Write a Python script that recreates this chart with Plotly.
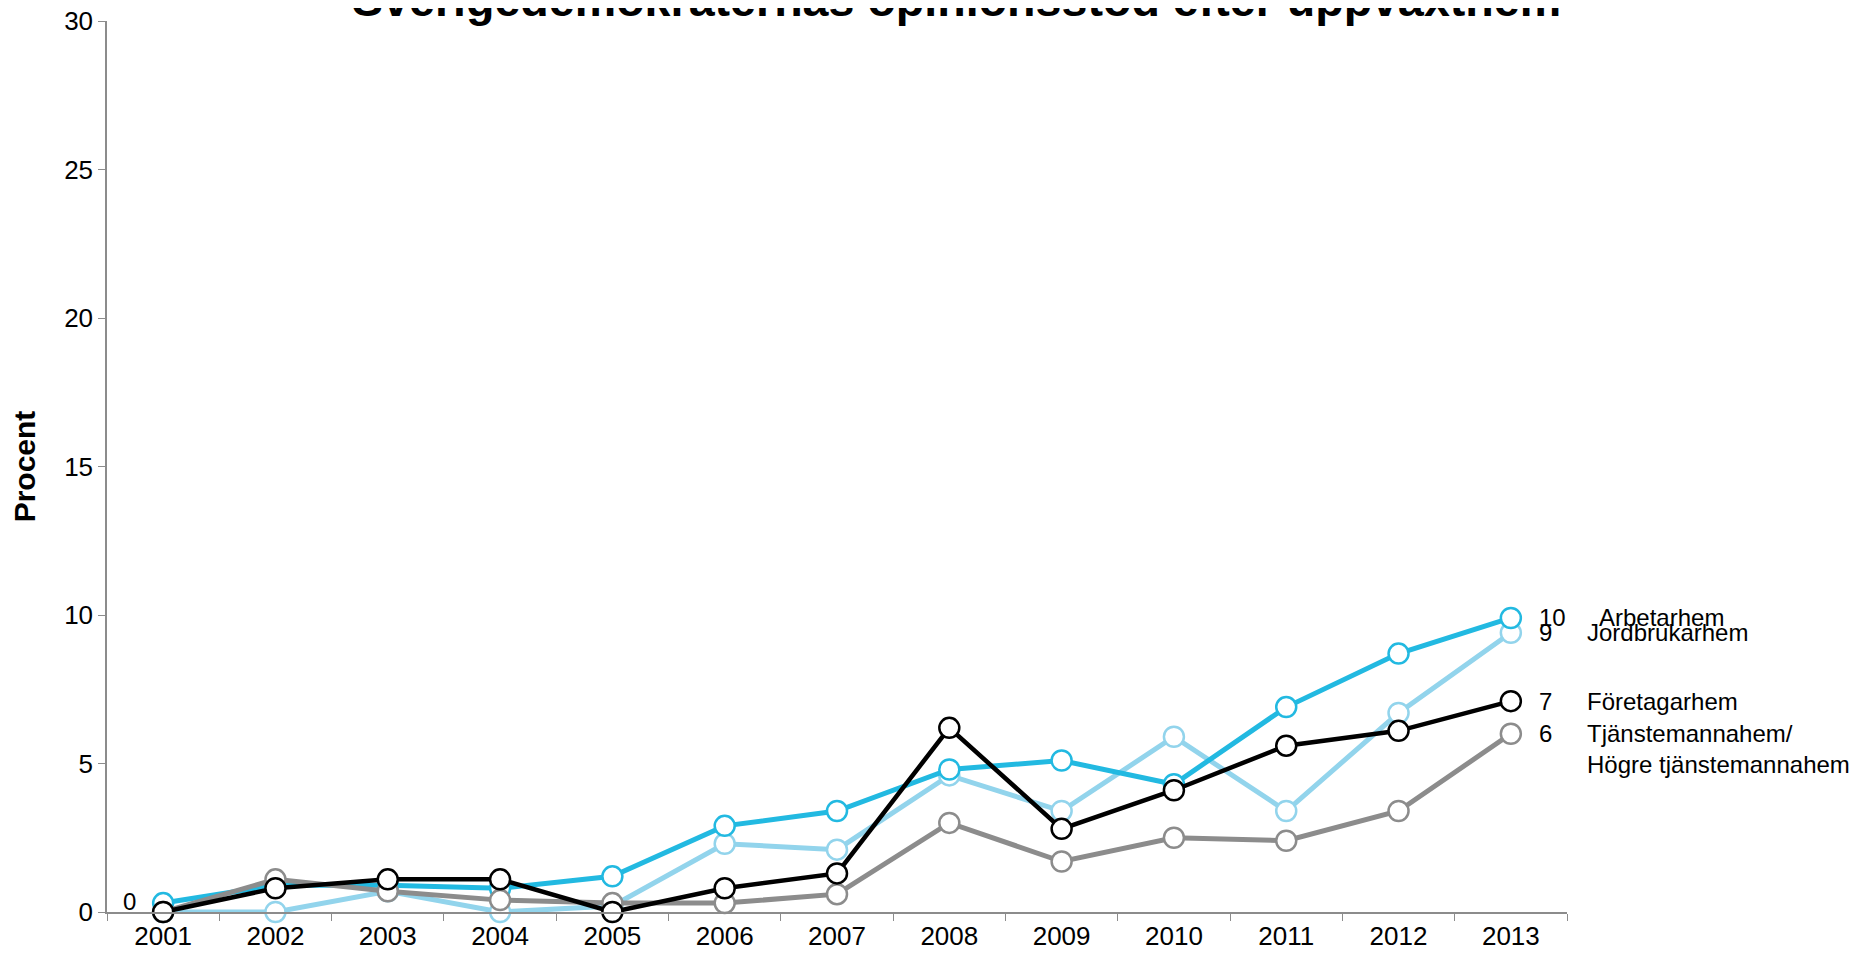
import plotly.graph_objects as go

years = ["2001", "2002", "2003", "2004", "2005", "2006", "2007",
         "2008", "2009", "2010", "2011", "2012", "2013"]

arbetarhem = [0.3, 0.9, 0.9, 0.8, 1.2, 2.9, 3.4, 4.8, 5.1, 4.3, 6.9, 8.7, 9.9]
jordbrukarhem = [0.0, 0.0, 0.7, 0.0, 0.2, 2.3, 2.1, 4.6, 3.4, 5.9, 3.4, 6.7, 9.4]
tjanstemannahem = [0.0, 1.1, 0.7, 0.4, 0.3, 0.3, 0.6, 3.0, 1.7, 2.5, 2.4, 3.4, 6.0]
foretagarhem = [0.0, 0.8, 1.1, 1.1, 0.0, 0.8, 1.3, 6.2, 2.8, 4.1, 5.6, 6.1, 7.1]

FONT = "Liberation Sans, Arial, sans-serif"

# drawn bottom to top
series = [
    ("Jordbrukarhem", jordbrukarhem, "#92D4EC", "Jordbrukarhem", 74, 5),
    ("Arbetarhem", arbetarhem, "#22B9E1", "Arbetarhem", 86, 5),
    ("Tjänstemannahem", tjanstemannahem, "#8C8C8C", "Tjänstemannahem/<br>Högre tjänstemannahem", 74, 5),
    ("Företagarhem", foretagarhem, "#000000", "Företagarhem", 74, 4.5),
]

last = len(years) - 1  # category index of the last year

fig = go.Figure()
annotations = []
for name, vals, color, label, shift, lw in series:
    fig.add_trace(go.Scatter(
        x=years, y=vals, name=name, mode="lines+markers",
        line=dict(color=color, width=lw),
        marker=dict(symbol="circle", size=20, color="white",
                    line=dict(color=color, width=2.5)),
        cliponaxis=False, showlegend=False,
    ))
    annotations.append(dict(
        x=last, y=vals[-1], xref="x", yref="y", text=str(round(vals[-1])),
        showarrow=False, xanchor="left", xshift=26,
        font=dict(family=FONT, size=24, color="black")))
    multi = "<br>" in label
    annotations.append(dict(
        x=last, y=vals[-1], xref="x", yref="y", text=label,
        showarrow=False, xanchor="left", xshift=shift, align="left",
        yanchor="top" if multi else "middle", yshift=16 if multi else 0,
        font=dict(family=FONT, size=24, color="black")))

# first value label for Arbetarhem
annotations.append(dict(
    x=0, y=arbetarhem[0], xref="x", yref="y", text=str(round(arbetarhem[0])),
    showarrow=False, xanchor="right", xshift=-25, yshift=2,
    font=dict(family=FONT, size=24, color="black")))

annotations.append(dict(
    x=0.582, y=1, xref="paper", yref="paper",
    text="<b>Sverigedemokraternas opinionsstöd efter uppväxthem</b>",
    showarrow=False, xanchor="center", yanchor="bottom", yshift=-7,
    font=dict(family=FONT, size=46.6, color="black")))

fig.update_layout(
    width=1859, height=956,
    margin=dict(l=99, r=300, t=13, b=52),
    plot_bgcolor="white", paper_bgcolor="white",
    font=dict(family=FONT, size=26, color="black"),
    annotations=annotations,
)
fig.update_xaxes(
    type="category", range=[-0.5, 12.5], automargin=False,
    showline=True, linecolor="#8C8C8C", linewidth=1.5,
    ticks="outside", tickson="boundaries", ticklen=7, tickcolor="#8C8C8C",
    showgrid=False, zeroline=False,
    tickfont=dict(size=26),
)
fig.update_yaxes(
    range=[0, 30], dtick=5, automargin=False, ticklabeloverflow="allow",
    showline=True, linecolor="#8C8C8C", linewidth=1.5,
    ticks="outside", ticklen=7, tickcolor="#8C8C8C",
    showgrid=False, zeroline=False,
    tickfont=dict(size=26),
    title=dict(text="<b>Procent</b>", font=dict(size=30), standoff=22),
)

fig.write_html("out.html")
